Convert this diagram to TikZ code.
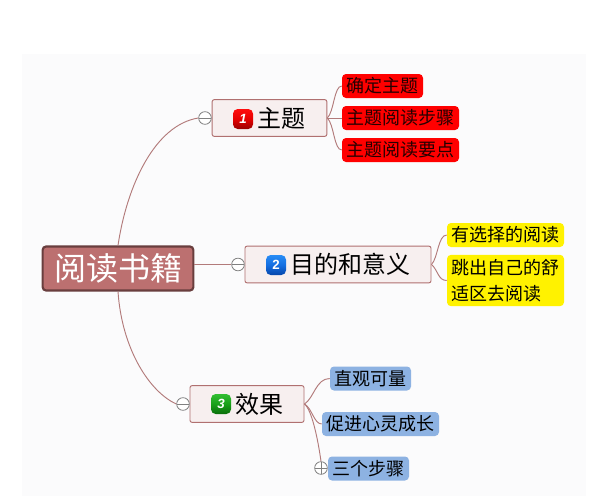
\documentclass[tikz,border=0pt]{standalone}
\usepackage{fontspec}
\setmainfont{Noto Sans CJK SC}
\newfontfamily\badgefont{Liberation Sans}
\usetikzlibrary{shapes}
\definecolor{panelgray}{RGB}{251,251,252}
\definecolor{rootfill}{RGB}{188,112,112}
\definecolor{rootline}{RGB}{105,62,62}
\definecolor{topicfill}{RGB}{247,239,239}
\definecolor{topicline}{RGB}{176,112,112}
\definecolor{branchline}{RGB}{178,122,122}
\definecolor{bluefill}{RGB}{141,178,226}
\newcommand{\topicpad}{\hspace{18.2pt}}
\tikzset{
  rootbox/.style={draw=rootline,line width=1.6pt,fill=rootfill,rounded corners=2.5pt,text=white,inner sep=0pt,font=\fontsize{24}{28}\selectfont},
  topicbox/.style={draw=topicline,line width=0.7pt,fill=topicfill,rounded corners=1.5pt,inner sep=0pt,font=\fontsize{18}{22}\selectfont},
  leafbox/.style={rounded corners=3pt,inner sep=0pt,font=\fontsize{13.5}{20}\selectfont},
  redleaf/.style={leafbox,fill=red,text=black!85!red},
  yellowleaf/.style={leafbox,fill=yellow},
  blueleaf/.style={leafbox,fill=bluefill},
  badge/.style={rounded corners=3.5pt,minimum size=15pt,inner sep=0pt,text=white,font=\badgefont\bfseries\fontsize{10}{10}\selectfont},
  collapse/.style={circle,draw=gray,fill=white,line width=0.6pt,minimum size=9.5pt,inner sep=0pt},
  minus/.style={collapse,path picture={\draw [gray,line width=0.6pt] (path picture bounding box.west) -- (path picture bounding box.east);}},
  plus/.style={collapse,path picture={\draw [gray,line width=0.6pt] (path picture bounding box.west) -- (path picture bounding box.east) (path picture bounding box.north) -- (path picture bounding box.south);}},
  branch/.style={draw=branchline,line width=0.7pt},
}
\begin{document}
\begin{tikzpicture}[x=0.75pt,y=0.75pt,yscale=-1,xscale=1]
\useasboundingbox (0,0) rectangle (602,496);
\fill [panelgray] (22,54) rectangle (586,496);

% Root
\node [rootbox,minimum width=113pt,minimum height=33pt] (root) at (118,268.5) {阅读书籍};

% Topics
\node [topicbox,minimum width=86pt,minimum height=27.5pt] (topicA) at (269.5,118) {\topicpad 主题};
\node [topicbox,minimum width=139.5pt,minimum height=27.5pt] (topicB) at (338,264.5) {\topicpad 目的和意义};
\node [topicbox,minimum width=85.5pt,minimum height=27.5pt] (topicC) at (247,404) {\topicpad 效果};

% Badges
\node [badge,top color=red!95!white,bottom color=red!60!black,middle color=red!90!black] (badgeA) at (243,119) {\itshape 1};
\node [badge,top color={rgb,255:red,40;green,140;blue,245},bottom color={rgb,255:red,5;green,70;blue,170},middle color={rgb,255:red,20;green,110;blue,225}] (badgeB) at (276,265) {2};
\node [badge,top color={rgb,255:red,50;green,190;blue,50},bottom color={rgb,255:red,10;green,110;blue,10},middle color={rgb,255:red,25;green,160;blue,25}] (badgeC) at (221,404) {\itshape 3};

% Leaves
\node [redleaf,minimum width=60.75pt,minimum height=18pt] (leafAa) at (382.5,86) {确定主题};
\node [redleaf,minimum width=87.75pt,minimum height=18pt] (leafAb) at (400.5,118) {主题阅读步骤};
\node [redleaf,minimum width=87.75pt,minimum height=18pt] (leafAc) at (400.5,150) {主题阅读要点};
\node [yellowleaf,minimum width=87.75pt,minimum height=18pt] (leafBa) at (505.5,235) {有选择的阅读};
\node [yellowleaf,minimum width=87.75pt,minimum height=38.5pt,align=left] (leafBb) at (505.5,280.5) {跳出自己的舒\\适区去阅读};
\node [blueleaf,minimum width=60.75pt,minimum height=18pt] (leafCa) at (370.5,378.5) {直观可量};
\node [blueleaf,minimum width=87.75pt,minimum height=18pt] (leafCb) at (380.5,424) {促进心灵成长};
\node [blueleaf,minimum width=60.75pt,minimum height=18pt] (leafCc) at (368.5,468.5) {三个步骤};

% Collapse marks
\node [minus] (markA) at (205,118) {};
\node [minus] (markB) at (238,264.5) {};
\node [minus] (markC) at (183,404) {};
\node [plus] (markD) at (321,468) {};

% Branches
\draw [branch] (root.north) .. controls (127,185) and (155,125) .. (markA.west);
\draw [branch] (root.east |- markB) -- (markB.west);
\draw [branch] (root.south) .. controls (122,350) and (150,392) .. (markC.west);
\draw [branch] (topicA.east) .. controls (334,112) and (334,86) .. (leafAa.west);
\draw [branch] (topicA.east) -- (leafAb.west);
\draw [branch] (topicA.east) .. controls (334,124) and (334,150) .. (leafAc.west);
\draw [branch] (topicB.east) .. controls (438,258) and (438,235) .. (leafBa.west);
\draw [branch] (topicB.east) .. controls (438,270) and (438,280.5) .. (leafBb.west);
\draw [branch] (topicC.east) .. controls (314,398) and (316,378.5) .. (leafCa.west);
\draw [branch] (topicC.east) .. controls (312,408) and (314,424) .. (leafCb.west);
\draw [branch] (topicC.east) .. controls (312,410) and (318,440) .. (markD.north);
\end{tikzpicture}
\end{document}
